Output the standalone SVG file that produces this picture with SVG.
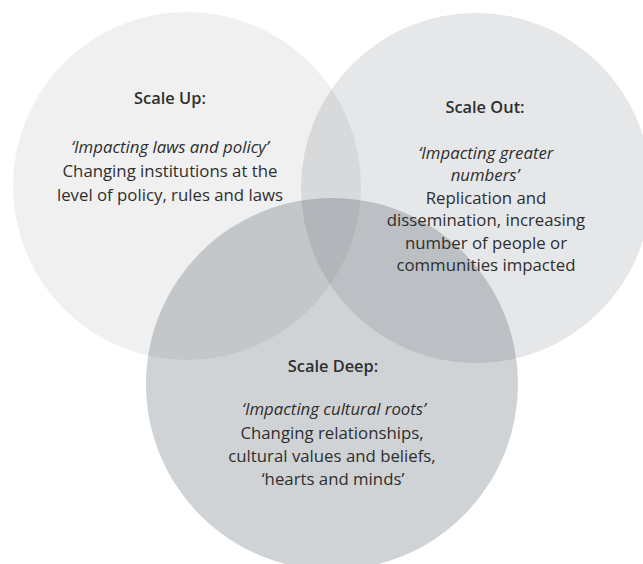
<svg xmlns="http://www.w3.org/2000/svg" width="643" height="564" viewBox="0 0 643 564">
<style>
.t{font-family:"Open Sans","Noto Sans","Liberation Sans",sans-serif;font-size:16.8px;fill:#2e2e2e;text-anchor:middle}
.h{font-weight:600;font-size:16.4px}
.i{font-style:italic}
</style>
<rect width="643" height="564" fill="#ffffff"/>
<g id="scale-up">
<circle cx="187" cy="186" r="174" fill="#000000" fill-opacity="0.06"/>
</g>
<g id="scale-out">
<circle cx="476" cy="188" r="175" fill="#303c48" fill-opacity="0.12"/>
</g>
<g id="scale-deep">
<circle cx="332" cy="384" r="186" fill="#303c48" fill-opacity="0.227"/>
</g>
<g id="scale-up-text">
<text class="t h" x="170" y="104">Scale Up:</text>
<text class="t i" x="170" y="153">‘Impacting laws and policy’</text>
<text class="t" x="170" y="177">Changing institutions at the</text>
<text class="t" x="170" y="201">level of policy, rules and laws</text>
</g>
<g id="scale-out-text">
<text class="t h" x="485" y="113">Scale Out:</text>
<text class="t i" x="486" y="159">‘Impacting greater</text>
<text class="t i" x="485" y="181">numbers’</text>
<text class="t" x="486" y="204">Replication and</text>
<text class="t" x="486" y="226">dissemination, increasing</text>
<text class="t" x="486" y="249">number of people or</text>
<text class="t" x="486" y="271">communities impacted</text>
</g>
<g id="scale-deep-text">
<text class="t h" x="333" y="372">Scale Deep:</text>
<text class="t i" x="334" y="415">‘Impacting cultural roots’</text>
<text class="t" x="332" y="439">Changing relationships,</text>
<text class="t" x="332" y="462">cultural values and beliefs,</text>
<text class="t" x="333" y="485">‘hearts and minds’</text>
</g>
<g id="connectors"/>
</svg>
